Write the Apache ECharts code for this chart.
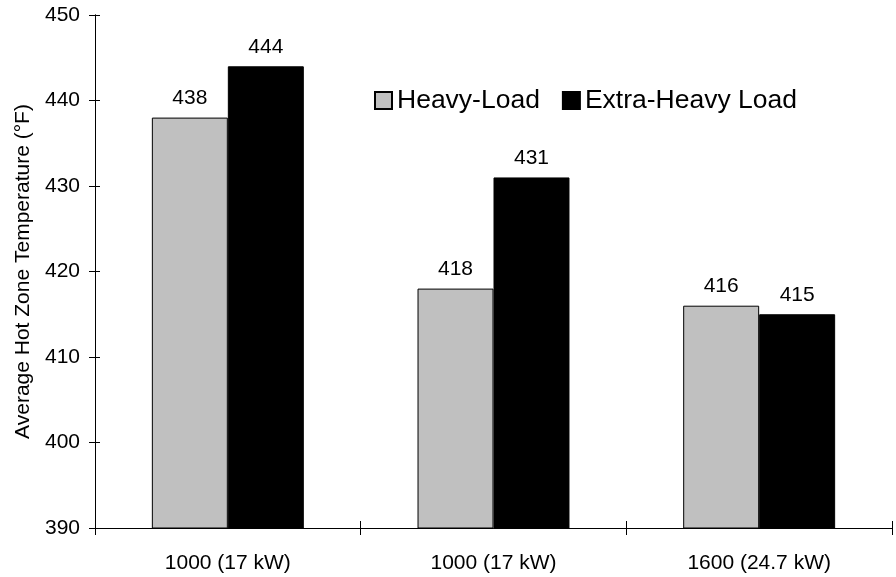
<!DOCTYPE html>
<html>
<head>
<meta charset="utf-8">
<script src="https://cdn.jsdelivr.net/npm/echarts@6/dist/echarts.min.js"></script>
<style>html,body{margin:0;padding:0;background:#fff;}#chart{width:896px;height:577px;}</style>
</head>
<body>
<div id="chart"></div>
<script>
const categories = ['1000 (17 kW)', '1000 (17 kW)', '1600 (24.7 kW)'];
const heavyLoad = [438, 418, 416];
const extraHeavyLoad = [444, 431, 415];
const yTicks = [390, 400, 410, 420, 430, 440, 450];
const seriesNames = ['Heavy-Load', 'Extra-Heavy Load'];
const yAxisTitle = 'Average Hot Zone Temperature (°F)';

const FONT = 'Liberation Sans, Arial, sans-serif';
const chart = echarts.init(document.getElementById('chart'), null, {renderer: 'canvas'});
const axisLine = {show: true, lineStyle: {color: '#000', width: 1}};
const yBase = {
  type: 'value', min: yTicks[0], max: yTicks[yTicks.length - 1], interval: 10,
  position: 'left', splitLine: {show: false}, axisLine: axisLine
};
chart.setOption({
  animation: false,
  backgroundColor: '#fff',
  grid: {left: 95, right: 4, top: 15, bottom: 49, containLabel: false},
  legend: {
    left: 369, top: 82, itemWidth: 17, itemHeight: 17, itemGap: 22,
    icon: 'rect',
    textStyle: {fontFamily: FONT, fontSize: 26.5, color: '#000', padding: [4, 0, 0, 0]},
    data: seriesNames
  },
  xAxis: [{
    type: 'category', data: categories, position: 'bottom',
    axisLine: axisLine,
    axisTick: {show: true, length: 7, lineStyle: {color: '#000'}},
    axisLabel: {fontFamily: FONT, fontSize: 21, color: '#000', margin: 25}
  }, {
    type: 'category', data: categories, position: 'bottom',
    axisLine: axisLine,
    axisTick: {show: true, inside: true, length: 7, lineStyle: {color: '#000'}},
    axisLabel: {show: false}
  }],
  yAxis: [Object.assign({}, yBase, {
    axisTick: {show: true, length: 6, lineStyle: {color: '#000'}},
    axisLabel: {fontFamily: FONT, fontSize: 21, color: '#000', margin: 15},
    name: yAxisTitle, nameLocation: 'middle', nameGap: 60,
    nameTextStyle: {fontFamily: FONT, fontSize: 21, color: '#000'}
  }), Object.assign({}, yBase, {
    axisTick: {show: true, inside: true, length: 5, lineStyle: {color: '#000'}},
    axisLabel: {show: false}
  })],
  series: [{
    name: seriesNames[0], type: 'bar', data: heavyLoad, barWidth: '28.6%', barGap: '0%',
    itemStyle: {color: '#c0c0c0', borderColor: '#000', borderWidth: 1},
    label: {show: true, position: 'top', distance: 9, fontFamily: FONT, fontSize: 21, color: '#000'}
  }, {
    name: seriesNames[1], type: 'bar', data: extraHeavyLoad, barWidth: '28.6%', barGap: '0%',
    itemStyle: {color: '#000', borderColor: '#000', borderWidth: 1},
    label: {show: true, position: 'top', distance: 9, fontFamily: FONT, fontSize: 21, color: '#000'}
  }]
});
</script>
</body>
</html>
